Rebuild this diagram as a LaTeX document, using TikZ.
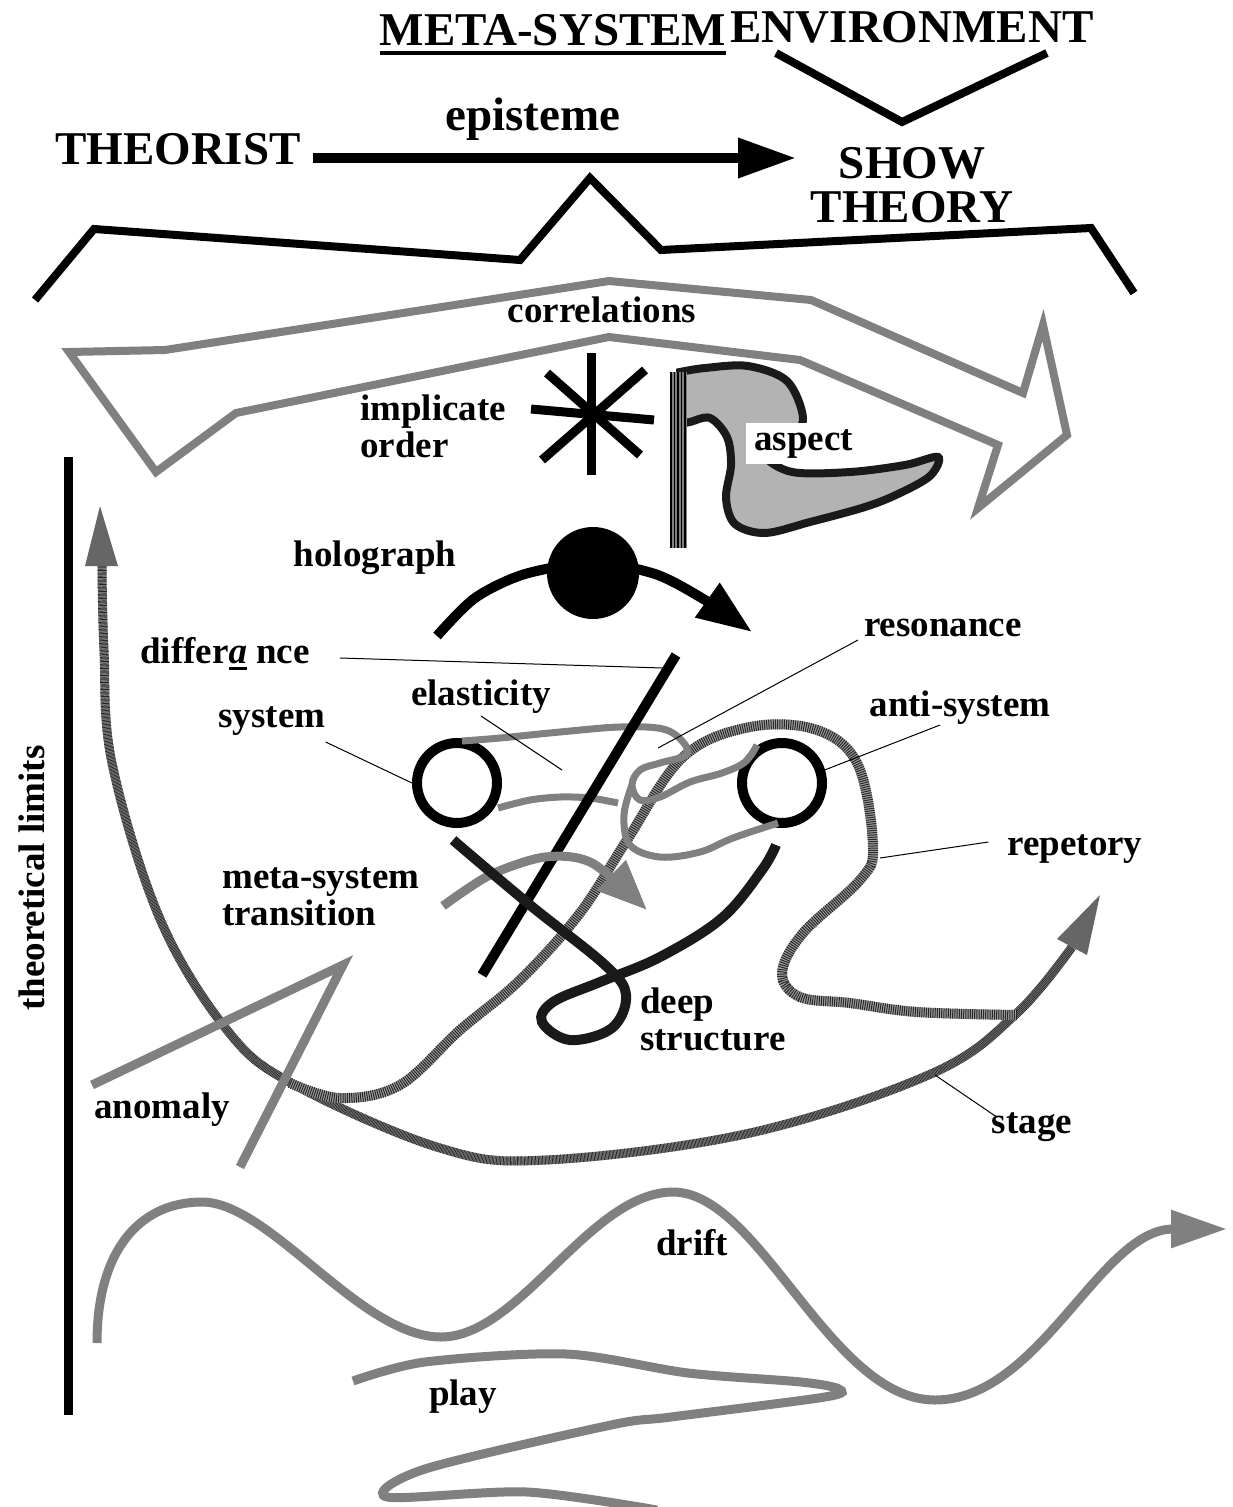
\documentclass[tikz,border=0pt]{standalone}
\usepackage{fontspec}
\setmainfont{Liberation Serif}
\usetikzlibrary{arrows.meta,positioning}
\definecolor{midgray}{HTML}{808080}
\definecolor{flaggray}{HTML}{B3B3B3}
\definecolor{nearblack}{HTML}{1A1A1A}
\definecolor{hatchbg}{HTML}{A0A0A0}
\definecolor{hatchdark}{HTML}{666666}
\newcommand\thickul[1]{\setbox0\hbox{#1}\rlap{\rule[-7pt]{\wd0}{3pt}}\box0\relax}
\begin{document}
\begin{tikzpicture}[x=1pt,y=-1pt,
  lbl/.style={font=\fontsize{37}{37}\selectfont\bfseries,inner sep=0pt},
  caps/.style={font=\fontsize{47}{44}\selectfont\bfseries,inner sep=0pt},
  heavy/.style={line width=8pt},
  greyline/.style={draw=midgray,line width=9pt},
  lead/.style={line width=1pt},
  ring/.style={circle,draw,line width=10pt,minimum size=80pt,inner sep=0pt},
  hatchA/.style={draw=black!85,line width=10pt,dash pattern=on 1pt off 1.2pt,
    preaction={draw=hatchbg,solid,line width=10pt}},
  hatchB/.style={draw=black!85,line width=9pt,dash pattern=on 0.7pt off 0.7pt,
    preaction={draw=hatchbg,solid,line width=9pt}}]
  \path[use as bounding box,fill=white] (0,0) rectangle (1233,1507);
  % heading
  \node[caps,anchor=base] (meta) at (553,45) {META-SYSTEM};
  \draw[line width=3.5pt] ([yshift=-8pt]meta.base west) -- ([yshift=-8pt]meta.base east);
  \node[caps,anchor=base] (env) at (912,42) {ENVIRONMENT};
  \draw[heavy] (776,53) -- (902,122) -- (1047,53);
  \node[caps,anchor=base] (theorist) at (178,164) {THEORIST};
  \node[caps,anchor=base] (episteme) at (533,130) {episteme};
  \node[caps,anchor=base,align=center] (show) at (912,222) {SHOW\\THEORY};
  \coordinate (epitip) at (796,158);
  \draw[line width=10pt,-{Triangle[length=58pt,width=38pt]}] ([shift={(12,-6)}]theorist.base east) -- (epitip);
  \draw[heavy] (35,300) -- (94,229) -- (520,260) -- (590,178) -- (661,250) -- (1091,228) -- (1134,293);
  % correlations
  \draw[greyline,line width=8pt] (69,352) -- (165,350) -- (609,281) -- (811,300) -- (1023,393) -- (1043,325)
    -- (1067,435) -- (978,508) -- (998,445) -- (800,360) -- (609,337) -- (236,413) -- (156,472) -- cycle;
  \node[lbl,anchor=base] (corr) at (602,322) {correlations};
  % implicate order
  \node[lbl,anchor=base west,align=left] (impl) at (360,457) {implicate\\order};
  \draw[line width=9pt] (591,353) -- (591,475);
  \draw[line width=9pt] (531,409) -- (654,420);
  \draw[line width=9pt] (547,373) -- (640,455);
  \draw[line width=9pt] (645,370) -- (542,460);
  % aspect
  \filldraw[draw=nearblack,fill=flaggray,line width=8pt] plot[smooth,tension=0.55] coordinates {(680,372) (705,368)
    (748,366) (787,381) (803,418) (790,440) (765,455) (792,472) (850,472) (905,465) (938,457) (930,476)
    (898,494) (865,507) (810,522) (765,533) (735,524) (726,498) (731,465) (727,437) (710,418) (690,422) (680,424)} -- cycle;
  \fill[midgray] (670,372) rectangle (687,548);
  \foreach \x in {671,674.5,...,686}
    \draw[line width=1.2pt] (\x,372) -- (\x,548);
  \node[lbl,anchor=base west,fill=white,inner xsep=8pt,inner ysep=6pt] (aspect) at (746,450) {aspect};
  % holograph
  \node[lbl,anchor=base] (holo) at (375,566) {holograph};
  \node[circle,fill=black,minimum size=92pt,inner sep=0pt] (holodot) at (593,573) {};
  \draw[line width=10pt,-{Triangle[length=55pt,width=40pt]}] plot[smooth] coordinates {(437,636) (475,598)
    (525,574) (593,563) (655,574) (705,600) (752,632)};
  % stage
  \draw[hatchB] plot[smooth,tension=0.6] coordinates {(102,566) (104,650) (112,763) (160,919) (227,1030)
    (293,1084) (440,1148) (546,1160) (750,1133) (933,1073) (1017,1013) (1072,947)};
  \fill[hatchdark] (100,506) -- (118,566) -- (85,566) -- cycle;
  \fill[hatchdark] (1100,895) -- (1087,955) -- (1057,939) -- cycle;
  % repetory
  \draw[hatchA] plot[smooth,tension=0.6] coordinates {(290,1083) (340,1098) (400,1085) (460,1030) (520,980)
    (580,913) (627,840) (683,757) (750,727) (817,730) (858,765) (873,847) (860,880) (803,933) (782,973)
    (800,997) (850,1003) (917,1012) (1017,1015)};
  % anomaly
  \draw[greyline] (92,1085) -- (343,965) -- (240,1167);
  \node[lbl,anchor=base] (anomaly) at (162,1118) {anomaly};
  % system / anti-system
  \node[ring] (sysring) at (457,783) {};
  \node[ring] (antiring) at (782,783) {};
  \draw[greyline,line width=7pt] plot[smooth,tension=0.6] coordinates {(462,741) (500,738) (560,732) (620,727)
    (663,729) (683,742) (686,755) (660,763) (640,770) (632,785) (640,800) (660,797) (690,782) (722,773)
    (745,762) (757,745)};
  \draw[greyline,line width=7pt] plot[smooth,tension=0.6] coordinates {(632,785) (624,815) (630,845) (660,857)
    (700,852) (733,838) (778,823)};
  \draw[greyline,line width=7pt] plot[smooth] coordinates {(498,808) (530,800) (560,797) (590,798) (618,803)};
  \draw[line width=10pt] (676,655) -- (482,975);
  % meta-system transition
  \draw[greyline,-{Triangle[length=50pt,width=40pt]}] plot[smooth] coordinates {(443,906) (490,875)
    (545,857) (592,863) (647,910)};
  \node[lbl,anchor=base west,align=left] (mst) at (222,925) {meta-system\\transition};
  % deep structure
  \draw[line width=10pt,nearblack] plot[smooth,tension=0.6] coordinates {(453,840) (530,905) (605,965)
    (626,995) (612,1028) (570,1040) (542,1022) (553,1002) (600,982) (660,957) (722,918) (762,870) (776,845)};
  \node[lbl,anchor=base west,align=left] (deep) at (640,1050) {deep\\structure};
  % labels with leaders
  \coordinate (difend) at (663,668);
  \coordinate (resend) at (658,748);
  \coordinate (elaend) at (562,770);
  \coordinate (repend) at (880,858);
  \coordinate (stgend) at (935,1075);
  \node[lbl,anchor=base west] (differ) at (140,663) {differ\thickul{\textit{a}} nce};
  \draw[lead] ([shift={(30,-5)}]differ.base east) -- (difend);
  \node[lbl,anchor=base] (reson) at (943,636) {resonance};
  \draw[lead] ([shift={(-6,4)}]reson.base west) -- (resend);
  \node[lbl,anchor=base] (elastic) at (481,705) {elasticity};
  \draw[lead] ([shift={(0,11)}]elastic.base) -- (elaend);
  \node[lbl,anchor=base] (system) at (272,727) {system};
  \draw[lead] ([shift={(0,15)}]system.base east) -- (sysring.west);
  \node[lbl,anchor=base] (anti) at (960,716) {anti-system};
  \draw[lead] ([shift={(-20,9)}]anti.base) -- (antiring.17);
  \node[lbl,anchor=base] (repet) at (1075,855) {repetory};
  \draw[lead] ([shift={(-19,-13)}]repet.base west) -- (repend);
  \node[lbl,anchor=base] (stage) at (1032,1133) {stage};
  \draw[lead] ([shift={(5,-16)}]stage.base west) -- (stgend);
  % drift and play
  \draw[greyline,-{Triangle[length=56pt,width=36pt]}] (97,1343) .. controls (97,1250) and (140,1202) .. (202,1202)
    .. controls (270,1202) and (360,1337) .. (441,1337) .. controls (520,1337) and (590,1192) .. (673,1192)
    .. controls (760,1192) and (830,1400) .. (935,1400) .. controls (1040,1400) and (1100,1229) .. (1227,1229);
  \node[lbl,anchor=base] (drift) at (692,1255) {drift};
  \draw[greyline] plot[smooth,tension=0.5] coordinates {(353,1381) (425,1362) (566,1354) (688,1373) (801,1382)
    (839,1389) (825,1397) (671,1417) (611,1425) (425,1469) (387,1497) (527,1492) (657,1510)};
  \node[lbl,anchor=base] (play) at (463,1405) {play};
  % theoretical limits
  \draw[line width=9pt] (68,457) -- (68,1415);
  \node[lbl,rotate=90,anchor=base] (limits) at (44,878) {theoretical limits};
\end{tikzpicture}
\end{document}
